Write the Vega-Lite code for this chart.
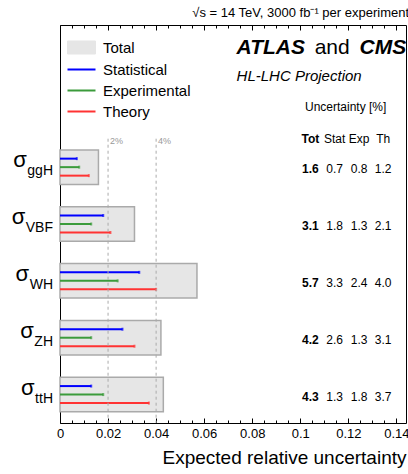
{
  "$schema": "https://vega.github.io/schema/vega-lite/v6.json",
  "width": 346,
  "height": 398,
  "autosize": {"type": "none"},
  "padding": {"left": 60, "top": 25, "right": 2, "bottom": 51},
  "background": "white",
  "config": {
    "view": {"stroke": "#000000", "strokeWidth": 1},
    "font": "Liberation Sans",
    "text": {"font": "Liberation Sans", "color": "#000000"},
    "legend": {"title": null, "orient": "none", "legendX": 14, "legendY": 15, "direction": "vertical", "symbolSize": 196, "symbolType": "M-2,0H2", "symbolStrokeWidth": 2, "labelFontSize": 15, "labelFont": "Liberation Sans", "labelColor": "#000000", "labelOffset": 14, "rowPadding": 5, "padding": 0}
  },
  "title": {"text": "√s = 14 TeV, 3000 fb⁻¹ per experiment", "anchor": "end", "fontSize": 13, "fontWeight": "normal", "font": "Liberation Sans", "offset": 5, "color": "#000000"},
  "params": [
    {"name": "cw", "value": {"g": 0.556, "H": 0.722, "V": 0.667, "B": 0.667, "F": 0.611, "W": 0.944, "Z": 0.611, "t": 0.278}}
  ],
  "datasets": {
    "proc": [
      {"process": "ggH", "Total": 1.6, "Statistical": 0.7, "Experimental": 0.8, "Theory": 1.2},
      {"process": "VBF", "Total": 3.1, "Statistical": 1.8, "Experimental": 1.3, "Theory": 2.1},
      {"process": "WH", "Total": 5.7, "Statistical": 3.3, "Experimental": 2.4, "Theory": 4.0},
      {"process": "ZH", "Total": 4.2, "Statistical": 2.6, "Experimental": 1.3, "Theory": 3.1},
      {"process": "ttH", "Total": 4.3, "Statistical": 1.3, "Experimental": 1.8, "Theory": 3.7}
    ],
    "guides": [{"pct": 2, "label": "2%"}, {"pct": 4, "label": "4%"}],
    "one": [{}]
  },
  "data": {"name": "proc"},
  "resolve": {"axis": {"x": "independent"}},
  "layer": [
    {
      "mark": {"type": "bar", "stroke": "#aaaaaa", "strokeWidth": 1.5, "height": {"band": 0.607}},
      "encoding": {
        "y": {"field": "process", "type": "nominal", "scale": {"domain": ["_a", "_b", "ggH", "VBF", "WH", "ZH", "ttH"], "paddingInner": 0, "paddingOuter": 0}, "axis": null},
        "x": {"field": "Total", "type": "quantitative", "scale": {"domain": [0, 14.4], "nice": false, "zero": true},
          "axis": {"orient": "bottom", "values": [0, 2, 4, 6, 8, 10, 12, 14], "labelExpr": "format(datum.value/100, '.2~f')", "tickSize": -5, "tickColor": "#000000", "domain": false, "grid": false, "labelFontSize": 13, "labelColor": "#000000", "labelFont": "Liberation Sans", "labelPadding": 9, "labelFlush": false, "title": "Expected relative uncertainty", "titleFont": "Liberation Sans", "titleFontSize": 19, "titleFontWeight": "normal", "titleColor": "#000000", "titleAnchor": "end", "titlePadding": 8}},
        "color": {"datum": "Total", "type": "nominal",
          "scale": {"domain": ["Total", "Statistical", "Experimental", "Theory"], "range": ["#e6e6e6", "#0000ff", "#3b9b3b", "#ff3333"]},
          "legend": {"title": null,
            "encode": {"symbols": {"update": {
              "shape": {"signal": "datum.value === 'Total' ? 'M-2,-0.93H2V0.93H-2Z' : 'M-2,0H2'"},
              "fill": {"signal": "datum.value === 'Total' ? '#e6e6e6' : 'transparent'"},
              "stroke": {"signal": "datum.value === 'Total' ? '#aaaaaa' : datum.value === 'Statistical' ? '#0000ff' : datum.value === 'Experimental' ? '#3b9b3b' : '#ff3333'"},
              "strokeWidth": {"signal": "datum.value === 'Total' ? 1 : 2"},
              "opacity": {"value": 1}
            }}}}
        }
      }
    },
    {
      "mark": {"type": "rule", "strokeWidth": 2, "yOffset": -8.5},
      "encoding": {
        "y": {"field": "process", "type": "nominal"},
        "x": {"field": "Statistical", "type": "quantitative",
          "axis": {"orient": "bottom", "values": [0.5, 1, 1.5, 2.5, 3, 3.5, 4.5, 5, 5.5, 6.5, 7, 7.5, 8.5, 9, 9.5, 10.5, 11, 11.5, 12.5, 13, 13.5], "tickSize": -3, "tickColor": "#000000", "labels": false, "domain": false, "grid": false, "title": null}},
        "x2": {"datum": 0},
        "color": {"datum": "Statistical", "type": "nominal",
          "legend": {"title": null,
            "encode": {"symbols": {"update": {
              "shape": {"signal": "datum.value === 'Total' ? 'M-2,-0.93H2V0.93H-2Z' : 'M-2,0H2'"},
              "fill": {"signal": "datum.value === 'Total' ? '#e6e6e6' : 'transparent'"},
              "stroke": {"signal": "datum.value === 'Total' ? '#aaaaaa' : datum.value === 'Statistical' ? '#0000ff' : datum.value === 'Experimental' ? '#3b9b3b' : '#ff3333'"},
              "strokeWidth": {"signal": "datum.value === 'Total' ? 1 : 2"},
              "opacity": {"value": 1}
            }}}}}
      }
    },
    {
      "mark": {"type": "rule", "strokeWidth": 2, "yOffset": 0},
      "encoding": {
        "y": {"field": "process", "type": "nominal"},
        "x": {"field": "Experimental", "type": "quantitative",
          "axis": {"orient": "top", "values": [0, 2, 4, 6, 8, 10, 12, 14], "tickSize": -5, "tickColor": "#000000", "labels": false, "domain": false, "grid": false, "title": null}},
        "x2": {"datum": 0},
        "color": {"datum": "Experimental", "type": "nominal",
          "legend": {"title": null,
            "encode": {"symbols": {"update": {
              "shape": {"signal": "datum.value === 'Total' ? 'M-2,-0.93H2V0.93H-2Z' : 'M-2,0H2'"},
              "fill": {"signal": "datum.value === 'Total' ? '#e6e6e6' : 'transparent'"},
              "stroke": {"signal": "datum.value === 'Total' ? '#aaaaaa' : datum.value === 'Statistical' ? '#0000ff' : datum.value === 'Experimental' ? '#3b9b3b' : '#ff3333'"},
              "strokeWidth": {"signal": "datum.value === 'Total' ? 1 : 2"},
              "opacity": {"value": 1}
            }}}}}
      }
    },
    {
      "mark": {"type": "rule", "strokeWidth": 2, "yOffset": 8.5},
      "encoding": {
        "y": {"field": "process", "type": "nominal"},
        "x": {"field": "Theory", "type": "quantitative", "axis": null},
        "x2": {"datum": 0},
        "color": {"datum": "Theory", "type": "nominal",
          "legend": {"title": null,
            "encode": {"symbols": {"update": {
              "shape": {"signal": "datum.value === 'Total' ? 'M-2,-0.93H2V0.93H-2Z' : 'M-2,0H2'"},
              "fill": {"signal": "datum.value === 'Total' ? '#e6e6e6' : 'transparent'"},
              "stroke": {"signal": "datum.value === 'Total' ? '#aaaaaa' : datum.value === 'Statistical' ? '#0000ff' : datum.value === 'Experimental' ? '#3b9b3b' : '#ff3333'"},
              "strokeWidth": {"signal": "datum.value === 'Total' ? 1 : 2"},
              "opacity": {"value": 1}
            }}}}}
      }
    },
    {
      "mark": {"type": "tick", "thickness": 2, "size": 3, "yOffset": -8.5},
      "encoding": {
        "y": {"field": "process", "type": "nominal"},
        "x": {"field": "Statistical", "type": "quantitative", "axis": null},
        "color": {"datum": "Statistical", "type": "nominal",
          "legend": {"title": null,
            "encode": {"symbols": {"update": {
              "shape": {"signal": "datum.value === 'Total' ? 'M-2,-0.93H2V0.93H-2Z' : 'M-2,0H2'"},
              "fill": {"signal": "datum.value === 'Total' ? '#e6e6e6' : 'transparent'"},
              "stroke": {"signal": "datum.value === 'Total' ? '#aaaaaa' : datum.value === 'Statistical' ? '#0000ff' : datum.value === 'Experimental' ? '#3b9b3b' : '#ff3333'"},
              "strokeWidth": {"signal": "datum.value === 'Total' ? 1 : 2"},
              "opacity": {"value": 1}
            }}}}}
      }
    },
    {
      "mark": {"type": "tick", "thickness": 2, "size": 3, "yOffset": 0},
      "encoding": {
        "y": {"field": "process", "type": "nominal"},
        "x": {"field": "Experimental", "type": "quantitative", "axis": null},
        "color": {"datum": "Experimental", "type": "nominal",
          "legend": {"title": null,
            "encode": {"symbols": {"update": {
              "shape": {"signal": "datum.value === 'Total' ? 'M-2,-0.93H2V0.93H-2Z' : 'M-2,0H2'"},
              "fill": {"signal": "datum.value === 'Total' ? '#e6e6e6' : 'transparent'"},
              "stroke": {"signal": "datum.value === 'Total' ? '#aaaaaa' : datum.value === 'Statistical' ? '#0000ff' : datum.value === 'Experimental' ? '#3b9b3b' : '#ff3333'"},
              "strokeWidth": {"signal": "datum.value === 'Total' ? 1 : 2"},
              "opacity": {"value": 1}
            }}}}}
      }
    },
    {
      "mark": {"type": "tick", "thickness": 2, "size": 3, "yOffset": 8.5},
      "encoding": {
        "y": {"field": "process", "type": "nominal"},
        "x": {"field": "Theory", "type": "quantitative", "axis": null},
        "color": {"datum": "Theory", "type": "nominal",
          "legend": {"title": null,
            "encode": {"symbols": {"update": {
              "shape": {"signal": "datum.value === 'Total' ? 'M-2,-0.93H2V0.93H-2Z' : 'M-2,0H2'"},
              "fill": {"signal": "datum.value === 'Total' ? '#e6e6e6' : 'transparent'"},
              "stroke": {"signal": "datum.value === 'Total' ? '#aaaaaa' : datum.value === 'Statistical' ? '#0000ff' : datum.value === 'Experimental' ? '#3b9b3b' : '#ff3333'"},
              "strokeWidth": {"signal": "datum.value === 'Total' ? 1 : 2"},
              "opacity": {"value": 1}
            }}}}}
      }
    },
    {
      "data": {"name": "guides"},
      "mark": {"type": "rule", "strokeDash": [3, 3], "color": "#aaaaaa", "strokeWidth": 1},
      "encoding": {
        "x": {"field": "pct", "type": "quantitative",
          "axis": {"orient": "top", "values": [0.5, 1, 1.5, 2.5, 3, 3.5, 4.5, 5, 5.5, 6.5, 7, 7.5, 8.5, 9, 9.5, 10.5, 11, 11.5, 12.5, 13, 13.5], "tickSize": -3, "tickColor": "#000000", "labels": false, "domain": false, "grid": false, "title": null}},
        "y": {"datum": "_b", "bandPosition": 1},
        "y2": {"value": {"expr": "height"}}
      }
    },
    {
      "data": {"name": "guides"},
      "mark": {"type": "text", "align": "left", "baseline": "middle", "dx": 2, "dy": 2, "fontSize": 9, "color": "#999999"},
      "encoding": {
        "x": {"field": "pct", "type": "quantitative", "axis": null},
        "y": {"datum": "_b", "bandPosition": 1},
        "text": {"field": "label"}
      }
    },
    {
      "mark": {"type": "text", "fontSize": 12, "fontWeight": "bold", "baseline": "middle", "dy": 2},
      "encoding": {"x": {"datum": 10.42, "axis": null}, "y": {"field": "process", "type": "nominal"}, "text": {"field": "Total", "type": "quantitative", "format": ".1f"}}
    },
    {
      "mark": {"type": "text", "fontSize": 12, "baseline": "middle", "dy": 2},
      "encoding": {"x": {"datum": 11.43, "axis": null}, "y": {"field": "process", "type": "nominal"}, "text": {"field": "Statistical", "type": "quantitative", "format": ".1f"}}
    },
    {
      "mark": {"type": "text", "fontSize": 12, "baseline": "middle", "dy": 2},
      "encoding": {"x": {"datum": 12.45, "axis": null}, "y": {"field": "process", "type": "nominal"}, "text": {"field": "Experimental", "type": "quantitative", "format": ".1f"}}
    },
    {
      "mark": {"type": "text", "fontSize": 12, "baseline": "middle", "dy": 2},
      "encoding": {"x": {"datum": 13.45, "axis": null}, "y": {"field": "process", "type": "nominal"}, "text": {"field": "Theory", "type": "quantitative", "format": ".1f"}}
    },
    {
      "data": {"name": "one"},
      "mark": {"type": "text", "text": "Tot", "fontSize": 12, "fontWeight": "bold", "baseline": "middle"},
      "encoding": {"x": {"datum": 10.42, "axis": null}, "y": {"datum": "_b", "bandPosition": 1}}
    },
    {
      "data": {"name": "one"},
      "mark": {"type": "text", "text": "Stat", "fontSize": 12, "baseline": "middle"},
      "encoding": {"x": {"datum": 11.43, "axis": null}, "y": {"datum": "_b", "bandPosition": 1}}
    },
    {
      "data": {"name": "one"},
      "mark": {"type": "text", "text": "Exp", "fontSize": 12, "baseline": "middle"},
      "encoding": {"x": {"datum": 12.45, "axis": null}, "y": {"datum": "_b", "bandPosition": 1}}
    },
    {
      "data": {"name": "one"},
      "mark": {"type": "text", "text": "Th", "fontSize": 12, "baseline": "middle"},
      "encoding": {"x": {"datum": 13.45, "axis": null}, "y": {"datum": "_b", "bandPosition": 1}}
    },
    {
      "data": {"name": "one"},
      "mark": {"type": "text", "text": "Uncertainty [%]", "fontSize": 12, "baseline": "middle", "dy": -3},
      "encoding": {"x": {"datum": 11.89, "axis": null}, "y": {"datum": "_b"}}
    },
    {
      "data": {"name": "one"},
      "mark": {"type": "text", "text": "HL-LHC Projection", "fontSize": 15, "fontStyle": "italic", "align": "left", "baseline": "middle", "dy": 22.6},
      "encoding": {"x": {"datum": 7.35, "axis": null}, "y": {"datum": "_a"}}
    },
    {
      "data": {"name": "one"},
      "mark": {"type": "text", "text": "ATLAS", "fontSize": 21, "fontStyle": "italic", "fontWeight": "bold", "align": "left", "baseline": "middle", "dy": -5},
      "encoding": {"x": {"datum": 7.35, "axis": null}, "y": {"datum": "_a"}}
    },
    {
      "data": {"name": "one"},
      "mark": {"type": "text", "text": "and", "fontSize": 21, "align": "left", "baseline": "middle", "dy": -5},
      "encoding": {"x": {"datum": 10.6, "axis": null}, "y": {"datum": "_a"}}
    },
    {
      "data": {"name": "one"},
      "mark": {"type": "text", "text": "CMS", "fontSize": 21, "fontStyle": "italic", "fontWeight": "bold", "align": "right", "baseline": "middle", "dy": -5},
      "encoding": {"x": {"datum": 14.41, "axis": null}, "y": {"datum": "_a"}}
    },
    {
      "mark": {"type": "text", "fontSize": 14, "align": "right", "baseline": "alphabetic", "dx": -7, "dy": 8},
      "encoding": {"x": {"datum": 0, "axis": null}, "y": {"field": "process", "type": "nominal"}, "text": {"field": "process"}}
    },
    {
      "mark": {"type": "text", "text": "σ", "fontSize": 22, "align": "right", "baseline": "alphabetic", "dy": 0,
        "dx": {"expr": "-7.5 - 14*((cw[substring(datum.process,0,1)] || 0) + (cw[substring(datum.process,1,2)] || 0) + (cw[substring(datum.process,2,3)] || 0))"}},
      "encoding": {"x": {"datum": 0, "axis": null}, "y": {"field": "process", "type": "nominal"}}
    }
  ]
}
